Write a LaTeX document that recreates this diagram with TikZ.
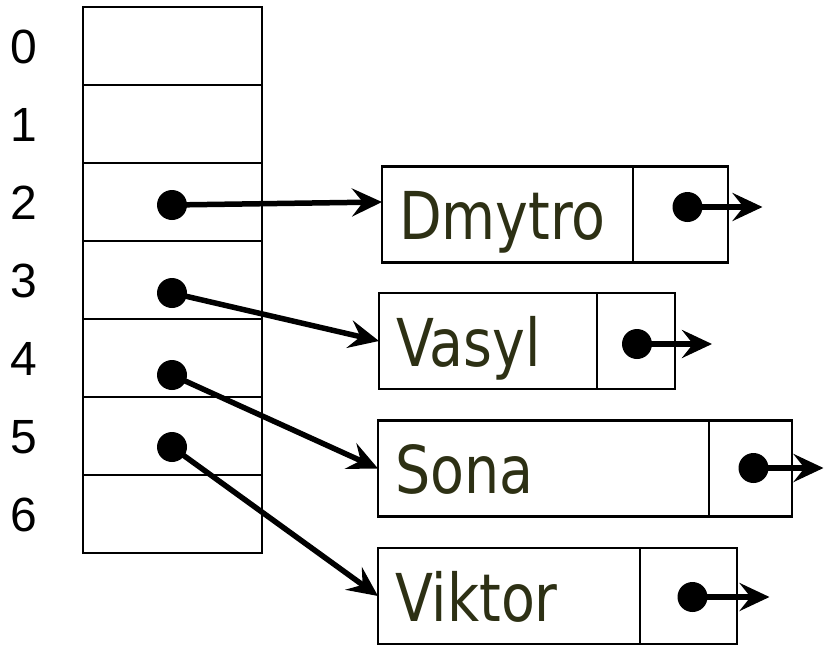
\documentclass[tikz,border=0pt]{standalone}
\usepackage{fontspec}
\usetikzlibrary{arrows.meta,positioning}
\newfontfamily\idxfont{Liberation Sans}
\newfontfamily\namefont{DejaVu Sans}[FakeStretch=0.84]
\definecolor{namecol}{RGB}{45,48,20}

\begin{document}
\begin{tikzpicture}[x=1pt,y=-1pt,
  cell/.style={draw,line width=2.2pt,minimum width=179pt,minimum height=78pt,inner sep=0pt,outer sep=0pt},
  idx/.style={font=\idxfont\fontsize{48}{50}\selectfont,inner sep=0pt},
  namebox/.style={draw,line width=2.2pt,minimum height=96pt,inner xsep=17pt,outer sep=0pt,
    text width=#1,align=left,text height=62pt,text depth=12pt,text=namecol,
    font=\namefont\fontsize{66}{70}\selectfont},
  nextbox/.style={draw,line width=2.2pt,minimum height=96pt,minimum width=#1,inner sep=0pt,outer sep=0pt},
  dot/.style={circle,fill=black,inner sep=0pt,minimum size=30pt},
  ptr/.style={line width=5.5pt,-{Stealth[length=30pt,width=28pt,inset=11pt]}}]
  \useasboundingbox (0,0) rectangle (824,645);
  % the table
  \foreach \i in {0,...,6} {
    \node[cell] (c\i) at (172.5,{46+78*\i}) {};
    \node[idx] (l\i) at (24,{47+78*\i}) {\i};
  }
  % list elements
  \node[namebox=217pt] (dmytro) at (507.5,214.5) {Dmytro};
  \node[nextbox=95pt,right=0pt of dmytro] (dmytroN) {};
  \node[namebox=184pt] (vasyl) at (488,341) {Vasyl};
  \node[nextbox=78pt,right=0pt of vasyl] (vasylN) {};
  \node[namebox=297pt] (sona) at (543.5,468.5) {Sona};
  \node[nextbox=83pt,right=0pt of sona] (sonaN) {};
  \node[namebox=228pt] (viktor) at (509,596) {Viktor};
  \node[nextbox=97pt,right=0pt of viktor] (viktorN) {};
  % pointers in the table
  \node[dot] (p2) at (172,205) {};
  \node[dot] (p3) at (172,293) {};
  \node[dot] (p4) at (172,375) {};
  \node[dot] (p5) at (172,447) {};
  \draw[ptr] (p2.center) -- (dmytro.west |- 0,202);
  \draw[ptr] (p3.center) -- (vasyl.west);
  \draw[ptr] (p4.center) -- (sona.west);
  \draw[ptr] (p5.center) -- (viktor.west);
  % next pointers
  \foreach \n/\dx/\y/\len in {dmytro/7/207/75,vasyl/1/344/75,sona/3/468/70,viktor/4/597/77} {
    \node[dot] (\n D) at ([xshift=\dx pt]\n N.center |- 0,\y) {};
    \coordinate (\n E) at ([xshift=\len pt]\n D.center);
    \draw[ptr] (\n D.center) -- (\n E);
  }
\end{tikzpicture}
\end{document}
